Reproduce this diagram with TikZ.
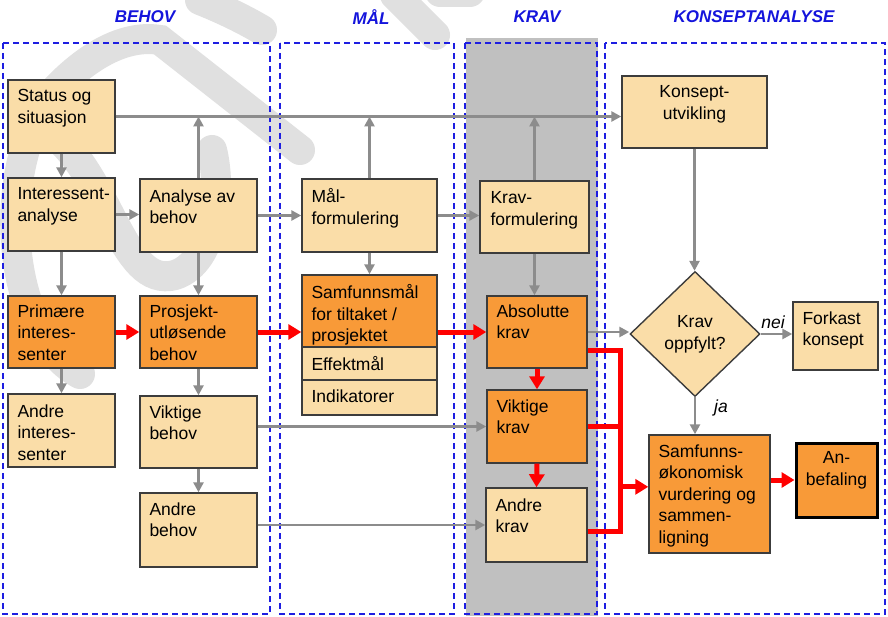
\documentclass[tikz,border=0pt]{standalone}
\usepackage{fontspec}
\setmainfont{Liberation Sans}
\usetikzlibrary{arrows.meta,fit,shapes.geometric,calc}
\definecolor{boxtan}{RGB}{250,221,168}
\definecolor{boxorg}{RGB}{248,154,56}
\definecolor{bdr}{RGB}{60,60,60}
\definecolor{arr}{RGB}{140,140,140}
\definecolor{pblue}{RGB}{30,30,225}
\definecolor{hblue}{RGB}{20,20,220}
\definecolor{kgray}{RGB}{192,192,192}
\definecolor{wm}{RGB}{224,224,224}
\begin{document}
\begin{tikzpicture}[x=1pt,y=-1pt,
 lbox/.style={draw=bdr, line width=1.4pt, fill=boxtan, inner sep=0pt},
 obox/.style={draw=bdr, line width=1.4pt, fill=boxorg, inner sep=0pt},
 txt/.style={anchor=north west, inner sep=0pt, align=left, font=\fontsize{17.5}{21.6}\selectfont},
 ctxt/.style={anchor=north, inner sep=0pt, align=center, font=\fontsize{17.5}{21.6}\selectfont},
 garrow/.style={draw=arr, line width=2.8pt, -{Triangle[length=10pt,width=10pt]}},
 rarrow/.style={draw=red, line width=5pt, -{Triangle[length=13pt,width=15pt]}},
 rline/.style={draw=red, line width=5pt},
 panel/.style={draw=pblue, line width=1.3pt, dash pattern=on 6pt off 4pt},
 hdr/.style={font=\fontsize{17}{20}\selectfont\bfseries\itshape, text=hblue, inner sep=0pt},
 lbl/.style={font=\fontsize{17.5}{21}\selectfont\itshape, inner sep=0pt},
 wmark/.style={draw=wm, line width=30pt, line cap=round}]
\useasboundingbox (0,0) rectangle (888,617);
\fill[white] (0,0) rectangle (888,617);
% watermark
\draw[wmark] (80,374) .. controls (0,330) and (-5,150) .. (60,85) .. controls (95,50) and (130,35) .. (160,40) -- (300,150);
\draw[wmark] (45,128) .. controls (110,170) and (120,290) .. (175,275) .. controls (215,262) and (222,190) .. (212,150);
\draw[wmark] (200,0) .. controls (225,10) and (245,20) .. (262,30);
\draw[wmark] (395,-5) -- (435,35);
\draw[wmark] (440,-8) -- (470,-8);
% panels
\fill[kgray] (466,38) rectangle (598,616);
\draw[panel] (3,43) rectangle (270,614);
\draw[panel] (280,43) rectangle (454,614);
\draw[panel] (465,43) rectangle (597,614);
\draw[panel] (605,43) rectangle (885,614);
% headers
\node[hdr] (h1) at (145,17) {BEHOV};
\node[hdr] (h2) at (371,17) {MÅL};
\node[hdr] (h3) at (537,17) {KRAV};
\node[hdr] (h4) at (754,17) {KONSEPTANALYSE};
% boxes
\node[lbox, fit={(8,80) (115,153)}] (status) {};
\node[txt] (status-t) at ([xshift=10pt,yshift=-10pt]status.north west) {Status og\\situasjon};
\node[lbox, fit={(8,178) (115,251)}] (inter) {};
\node[txt] (inter-t) at ([xshift=10pt,yshift=-10pt]inter.north west) {Interessent-\\analyse};
\node[lbox, fit={(140,179) (257,252)}] (anal) {};
\node[txt] (anal-t) at ([xshift=10pt,yshift=-11pt]anal.north west) {Analyse av\\behov};
\node[lbox, fit={(302,179) (437,252)}] (mal) {};
\node[txt] (mal-t) at ([xshift=10pt,yshift=-10pt]mal.north west) {Mål-\\formulering};
\node[lbox, fit={(480,181) (589,253)}] (krav) {};
\node[txt] (krav-t) at ([xshift=11pt,yshift=-11pt]krav.north west) {Krav-\\formulering};
\node[lbox, fit={(622,76) (767,148)}] (kons) {};
\node[ctxt] (kons-t) at ([yshift=-10pt]kons.north) {Konsept-\\utvikling};
\node[obox, fit={(8,296) (115,368)}] (prim) {};
\node[txt] (prim-t) at ([xshift=10pt,yshift=-9pt]prim.north west) {Primære\\interes-\\senter};
\node[obox, fit={(140,296) (257,368)}] (pros) {};
\node[txt] (pros-t) at ([xshift=10pt,yshift=-9pt]pros.north west) {Prosjekt-\\utløsende\\behov};
\node[obox, fit={(302,275) (437,347)}] (sfm) {};
\node[txt] (sfm-t) at ([xshift=10pt,yshift=-10pt]sfm.north west) {Samfunnsmål\\for tiltaket /\\prosjektet};
\node[lbox, fit={(302,347) (437,380)}] (eff) {};
\node[txt] (eff-t) at ([xshift=10pt,yshift=-10pt]eff.north west) {Effektmål};
\node[lbox, fit={(302,380) (437,415)}] (ind) {};
\node[txt] (ind-t) at ([xshift=10pt,yshift=-10pt]ind.north west) {Indikatorer};
\node[obox, fit={(487,296) (587,368)}] (abs) {};
\node[txt] (abs-t) at ([xshift=10pt,yshift=-9pt]abs.north west) {Absolutte\\krav};
\node[obox, fit={(487,390) (587,463)}] (vk) {};
\node[txt] (vk-t) at ([xshift=10pt,yshift=-10pt]vk.north west) {Viktige\\krav};
\node[lbox, fit={(486,488) (587,562)}] (ak) {};
\node[txt] (ak-t) at ([xshift=10pt,yshift=-11pt]ak.north west) {Andre\\krav};
\node[lbox, fit={(8,394) (115,467)}] (ai) {};
\node[txt] (ai-t) at ([xshift=10pt,yshift=-11pt]ai.north west) {Andre\\interes-\\senter};
\node[lbox, fit={(140,396) (257,468)}] (vb) {};
\node[txt] (vb-t) at ([xshift=10pt,yshift=-10pt]vb.north west) {Viktige\\behov};
\node[lbox, fit={(140,493) (257,567)}] (ab) {};
\node[txt] (ab-t) at ([xshift=10pt,yshift=-10pt]ab.north west) {Andre\\behov};
\node[lbox, fit={(793,302) (878,370)}] (fork) {};
\node[txt] (fork-t) at ([xshift=10pt,yshift=-10pt]fork.north west) {Forkast\\konsept};
\node[obox, fit={(649,435) (770,553)}] (se) {};
\node[txt] (se-t) at ([xshift=10pt,yshift=-10pt]se.north west) {Samfunns-\\økonomisk\\vurdering og\\sammen-\\ligning};
\node[obox, draw=black, line width=3pt, fit={(796,443) (877,517)}] (anb) {};
\node[ctxt] (anb-t) at ([yshift=-10pt]anb.north) {An-\\befaling};
\node[diamond, draw=bdr, line width=1.4pt, fill=boxtan, inner sep=0pt, minimum width=130pt, minimum height=125pt, align=center, font=\fontsize{17.5}{21.6}\selectfont] (dia) at (695,334) {Krav\\oppfylt?};
% gray connectors
\draw[garrow] (status.east) -- (status.east -| kons.west);
\draw[garrow] (anal.north) -- (anal.north |- status.east);
\draw[garrow] (mal.north) -- (mal.north |- status.east);
\draw[garrow] (krav.north) -- (krav.north |- status.east);
\draw[garrow] (status.south) -- (status.south |- inter.north);
\draw[garrow] (inter.east) -- (inter.east -| anal.west);
\draw[garrow] (anal.east) -- (anal.east -| mal.west);
\draw[garrow] (mal.east) -- (mal.east -| krav.west);
\draw[garrow] (inter.south) -- (inter.south |- prim.north);
\draw[garrow] (anal.south) -- (anal.south |- pros.north);
\draw[garrow] (mal.south) -- (mal.south |- sfm.north);
\draw[garrow] (krav.south) -- (krav.south |- abs.north);
\draw[garrow] (prim.south) -- (prim.south |- ai.north);
\draw[garrow] (pros.south) -- (pros.south |- vb.north);
\draw[garrow] (vb.south) -- (vb.south |- ab.north);
\draw[garrow] (vk.west -| vb.east) -- (vk.west);
\draw[garrow] (ak.west -| ab.east) -- (ak.west);
\draw[garrow] (abs.east) -- (abs.east -| dia.west);
\draw[garrow] (kons.south) -- (kons.south |- dia.north);
\draw[garrow] (dia.east) -- (dia.east -| fork.west);
\draw[garrow] (dia.south) -- (dia.south |- se.north);
\node[lbl] (nei) at (773,322) {nei};
\node[lbl] (ja) at (721,408) {ja};
% red connectors
\draw[rarrow] (prim.east) -- (prim.east -| pros.west);
\draw[rarrow] (pros.east) -- (pros.east -| sfm.west);
\draw[rarrow] (pros.east -| sfm.east) -- (pros.east -| abs.west);
\draw[rarrow] (abs.south) -- (vk.north);
\draw[rarrow] (vk.south) -- (ak.north);
\coordinate (bx) at (620,0);
\coordinate (ra) at ($(abs.north east)!0.75!(abs.south east)$);
\coordinate (rn) at ($(ak.north east)!0.58!(ak.south east)$);
\coordinate (rs) at ($(se.north west)!0.44!(se.south west)$);
\draw[rline] (ra) -- (ra -| bx) -- (rn -| bx) -- (rn);
\draw[rline] (vk.east) -- (vk.east -| bx);
\draw[rarrow] (rs -| bx) -- (rs);
\draw[rarrow] (anb.west -| se.east) -- (anb.west);
\end{tikzpicture}
\end{document}
